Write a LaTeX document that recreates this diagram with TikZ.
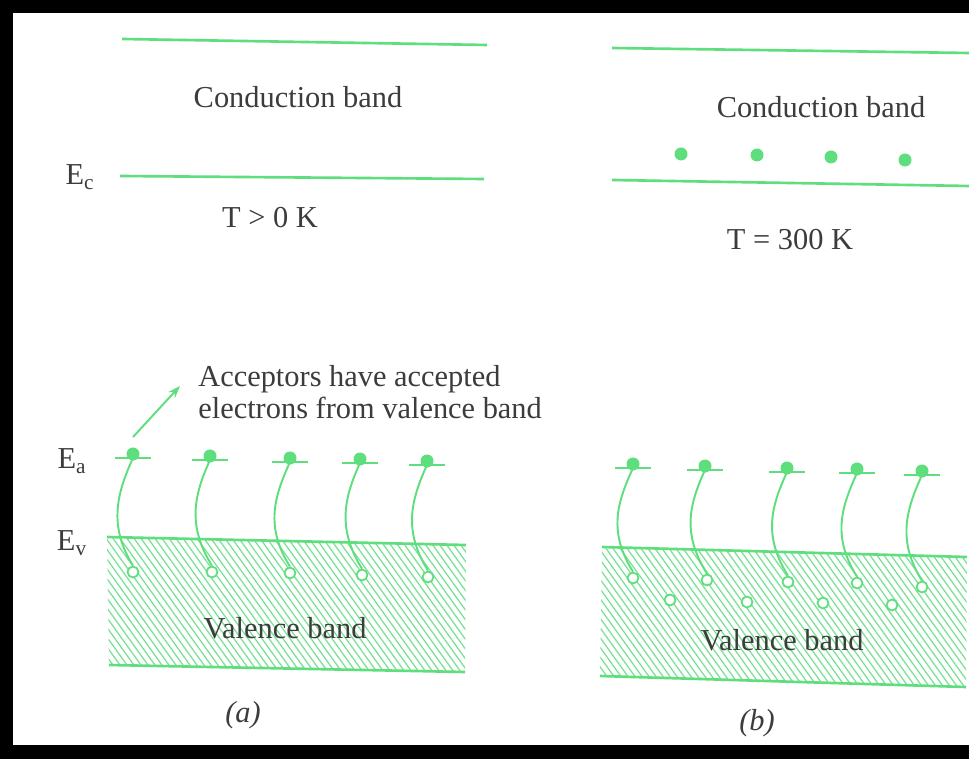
\documentclass[tikz,border=0pt]{standalone}
\usepackage{fontspec}
\setmainfont{Liberation Serif}
\usetikzlibrary{arrows.meta}
\definecolor{bandgreen}{RGB}{95,222,125}
\definecolor{hatchgreen}{RGB}{120,226,148}
\definecolor{txt}{RGB}{60,60,60}
\begin{document}
\begin{tikzpicture}[x=0.02cm,y=-0.02cm,
  band/.style={draw=bandgreen,line width=1.5pt},
  lvl/.style={draw=bandgreen,line width=1.1pt},
  hatch/.style={draw=hatchgreen,line width=0.7pt},
  trans/.style={draw=bandgreen,line width=1.1pt},
  elec/.style={circle,fill=bandgreen,inner sep=0pt,minimum size=7.4pt},
  hole/.style={circle,draw=bandgreen,fill=white,line width=1pt,inner sep=0pt,minimum size=6.2pt},
  lbl/.style={text=txt,font=\fontsize{17.3}{18}\selectfont,inner sep=0pt},
]
% background and frame
\fill[white] (0,0) rectangle (969,759);
\useasboundingbox (0,0) rectangle (969,759);
\fill[black] (0,0) rectangle (969,13);
\fill[black] (0,0) rectangle (13,759);
\fill[black] (0,745) rectangle (969,759);

% ===== panel (a) =====
\coordinate (a-ct1) at (122,39); \coordinate (a-ct2) at (487,45);
\coordinate (a-ec1) at (120,176); \coordinate (a-ec2) at (484,179);
\draw[band] (a-ct1) -- (a-ct2);
\draw[band] (a-ec1) -- (a-ec2);
\node[lbl] (a-cb) at (298,97) {Conduction band};
\node[lbl] (a-Ec) at (80,177) {E\textsubscript{c}};
\node[lbl] (a-T) at (270,218) {T > 0 K};

% valence band (a)
\coordinate (a-v1) at (107,537); \coordinate (a-v2) at (466,545);
\coordinate (a-v3) at (465,672); \coordinate (a-v4) at (109,665);
\begin{scope}
  \clip (a-v1) -- (a-v2) -- (a-v3) -- (a-v4) -- cycle;
  \foreach \i in {-140,-133,...,480} \draw[hatch] (107+\i,530) -- ++(112,156);
\end{scope}
\draw[band] (a-v1) -- (a-v2);
\draw[band] (a-v4) -- (a-v3);
\node[lbl] (a-vb) at (285,628) {Valence band};
\node[lbl] (a-Ea) at (72,461) {E\textsubscript{a}};
\node[lbl] (a-Ev) at (72,543) {E\textsubscript{v}};

\foreach \k/\xd/\yd/\xh/\yh in {1/133/458/133/572,2/210/460/212/572,3/290/462/290/573,4/360/463/362/575,5/427/465/428/577}{
  \coordinate (a-d\k) at (\xd,\yd);
  \draw[lvl] (\xd-18,\yd) -- (\xd+18,\yd);
  \node[elec] (a-e\k) at (\xd,\yd-4) {};
  \node[hole] (a-h\k) at (\xh,\yh) {};
  \draw[trans] (a-d\k) .. controls +(-16,35) and +(-25,-40) .. (a-h\k.north);
}

\node[lbl,anchor=west,align=left,font=\fontsize{17.3}{18.5}\selectfont] (a-acc) at (198,392) {Acceptors have accepted\\electrons from valence band};
\coordinate (a-arr0) at (133,437);
\coordinate (a-arr1) at (180,386);
\draw[draw=bandgreen,line width=1.1pt,-{Stealth[length=7pt,width=5pt]}] (a-arr0) -- (a-arr1);
\node[lbl,font=\fontsize{17.3}{18}\itshape] (a-cap) at (243,715) {(a)};

% ===== panel (b) =====
\coordinate (b-ct1) at (612,48); \coordinate (b-ct2) at (969,53);
\coordinate (b-ec1) at (612,180); \coordinate (b-ec2) at (969,186);
\draw[band] (b-ct1) -- (b-ct2);
\draw[band] (b-ec1) -- (b-ec2);
\node[lbl] (b-cb) at (821,107) {Conduction band};
\foreach \k/\x/\y in {1/681/154,2/757/155,3/831/157,4/905/160}{
  \node[elec] (b-c\k) at (\x,\y) {};
}
\node[lbl] (b-T) at (790,240) {T = 300 K};

\coordinate (b-v1) at (602,547); \coordinate (b-v2) at (967,557);
\coordinate (b-v3) at (966,687); \coordinate (b-v4) at (600,676);
\begin{scope}
  \clip (b-v1) -- (b-v2) -- (b-v3) -- (b-v4) -- cycle;
  \foreach \i in {-140,-133,...,500} \draw[hatch] (600+\i,540) -- ++(112,156);
\end{scope}
\draw[band] (b-v1) -- (b-v2);
\draw[band] (b-v4) -- (b-v3);
\node[lbl] (b-vb) at (782,640) {Valence band};

\foreach \k/\xd/\yd/\xh/\yh in {1/633/468/633/578,2/705/470/707/580,3/787/472/788/582,4/857/473/857/583,5/922/475/922/587}{
  \coordinate (b-d\k) at (\xd,\yd);
  \draw[lvl] (\xd-18,\yd) -- (\xd+18,\yd);
  \node[elec] (b-e\k) at (\xd,\yd-4) {};
  \node[hole] (b-h\k) at (\xh,\yh) {};
  \draw[trans] (b-d\k) .. controls +(-16,35) and +(-25,-40) .. (b-h\k.north);
}
\foreach \k/\x/\y in {1/670/600,2/747/602,3/823/603,4/892/605}{
  \node[hole] (b-x\k) at (\x,\y) {};
}
\node[lbl,font=\fontsize{17.3}{18}\itshape] (b-cap) at (757,723) {(b)};
\end{tikzpicture}
\end{document}
